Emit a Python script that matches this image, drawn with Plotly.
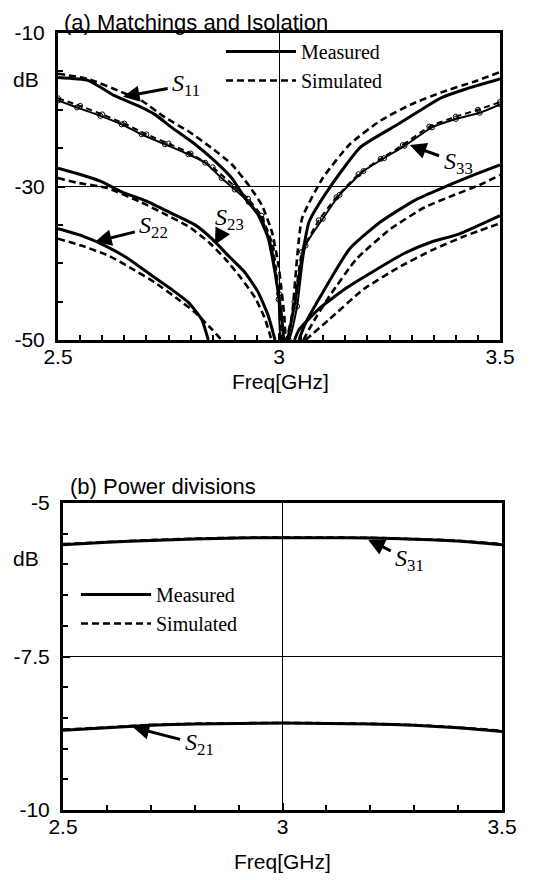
import plotly.graph_objects as go

# ---------------- data: (a) Matchings and Isolation ----------------
s11_meas_x = [2.500, 2.569, 2.629, 2.682, 2.719, 2.757, 2.810, 2.855, 2.893, 2.923, 2.953, 2.976, 2.991, 3.006, 3.012,
              3.018, 3.037, 3.068, 3.114, 3.184, 3.269, 3.330, 3.369, 3.423, 3.500]
s11_meas_y = [-15.8, -16.2, -18.2, -19.5, -20.6, -22.3, -24.5, -26.7, -28.9, -31.5, -33.7, -36.8, -41.2, -46.9, -50.0,
              -50.0, -44.7, -34.6, -30.2, -24.9, -21.9, -19.7, -18.4, -17.3, -16.0]
s11_sim_x = [2.500, 2.569, 2.644, 2.689, 2.742, 2.795, 2.848, 2.893, 2.931, 2.961, 2.984, 2.999, 3.012, 3.016,
             3.029, 3.052, 3.099, 3.160, 3.230, 3.299, 3.369, 3.438, 3.500]
s11_sim_y = [-15.3, -16.0, -17.7, -18.8, -21.0, -22.8, -25.0, -27.1, -29.8, -32.4, -35.9, -40.3, -46.9, -50.0,
             -46.9, -34.2, -28.9, -24.5, -21.4, -19.3, -17.7, -16.4, -15.1]

s33_meas_x = [2.500, 2.543, 2.596, 2.644, 2.689, 2.742, 2.795, 2.833, 2.870, 2.900, 2.931, 2.961, 2.984, 2.999, 3.005,
              3.022, 3.041, 3.060, 3.099, 3.137, 3.191, 3.238, 3.284, 3.346, 3.400, 3.454, 3.500]
s33_meas_y = [-18.8, -19.7, -20.8, -21.9, -23.2, -24.5, -25.8, -26.9, -28.9, -30.4, -32.0, -34.2, -38.1, -44.7, -50.0,
              -50.0, -45.6, -37.7, -34.2, -31.1, -28.0, -26.3, -24.7, -22.3, -21.2, -20.4, -19.3]
s33_sim_x = [2.500, 2.550, 2.600, 2.650, 2.700, 2.750, 2.800, 2.850, 2.900, 2.930, 2.960, 2.985, 3.000, 3.008,
             3.018, 3.035, 3.052, 3.090, 3.130, 3.180, 3.230, 3.280, 3.340, 3.400, 3.450, 3.500]
s33_sim_y = [-18.5, -19.5, -20.6, -21.8, -23.2, -24.4, -25.7, -27.5, -30.0, -31.6, -33.8, -37.5, -44.0, -50.0,
             -50.0, -45.0, -38.5, -34.4, -31.4, -28.4, -26.4, -24.6, -22.2, -20.9, -20.0, -19.0]

s23_meas_x = [2.500, 2.543, 2.596, 2.644, 2.704, 2.757, 2.810, 2.848, 2.885, 2.923, 2.953, 2.976, 2.991, None,
              3.045, 3.060, 3.099, 3.160, 3.230, 3.307, 3.361, 3.423, 3.500]
s23_meas_y = [-27.6, -28.3, -29.3, -30.7, -32.0, -33.5, -35.0, -36.8, -39.0, -41.2, -43.8, -46.9, -50.0, None,
              -50.0, -47.8, -43.8, -38.1, -34.6, -31.8, -30.4, -28.9, -27.2]
s23_sim_x = [2.500, 2.543, 2.611, 2.686, 2.742, 2.795, 2.840, 2.878, 2.915, 2.946, 2.968, 2.983, None,
             3.055, 3.076, 3.114, 3.176, 3.253, 3.330, 3.392, 3.454, 3.500]
s23_sim_y = [-28.9, -29.5, -30.2, -32.0, -33.6, -35.2, -37.2, -39.4, -42.0, -44.5, -47.2, -50.0, None,
             -50.0, -47.8, -44.3, -39.4, -35.5, -32.7, -31.2, -29.8, -28.5]

s22_meas_x = [2.500, 2.553, 2.606, 2.659, 2.712, 2.757, 2.795, 2.825, 2.840, None,
              3.035, 3.045, 3.091, 3.153, 3.215, 3.284, 3.346, 3.407, 3.500]
s22_meas_y = [-35.5, -36.4, -37.7, -39.4, -41.6, -43.4, -45.1, -47.3, -50.0, None,
              -50.0, -48.7, -45.9, -43.2, -41.0, -38.7, -37.2, -36.2, -33.8]
s22_sim_x = [2.500, 2.553, 2.614, 2.667, 2.719, 2.772, 2.810, 2.848, 2.870, None,
             3.060, 3.114, 3.191, 3.269, 3.346, 3.423, 3.500]
s22_sim_y = [-36.8, -37.7, -39.0, -40.7, -42.5, -44.7, -46.4, -48.6, -50.0, None,
             -50.0, -47.3, -43.4, -40.6, -38.3, -36.4, -34.8]

# ---------------- data: (b) Power divisions ----------------
freq_b = [2.5, 2.6, 2.7, 2.8, 2.9, 3.0, 3.1, 3.2, 3.3, 3.4, 3.5]
s31_meas = [-5.68, -5.64, -5.61, -5.585, -5.57, -5.565, -5.565, -5.57, -5.59, -5.62, -5.68]
s31_sim = [-5.67, -5.635, -5.605, -5.58, -5.567, -5.562, -5.563, -5.568, -5.587, -5.615, -5.67]
s21_meas = [-8.70, -8.66, -8.62, -8.60, -8.59, -8.585, -8.59, -8.60, -8.62, -8.66, -8.72]
s21_sim = [-8.69, -8.655, -8.615, -8.595, -8.587, -8.582, -8.587, -8.597, -8.617, -8.655, -8.71]

ticks_a_y = [-10, -30, -50]
ticks_a_ytext = ['-10', '-30', '-50']
ticks_b_y = [-5, -7.5, -10]
ticks_b_ytext = ['-5', '-7.5', '-10']
ticks_x = [2.5, 3.0, 3.5]
ticks_xtext = ['2.5', '3', '3.5']
minor_x_a = [round(2.5 + 0.05 * i, 3) for i in range(21)]
minor_x_b = [round(2.5 + 0.1 * i, 3) for i in range(11)]
minor_y_a = [-50 + 5 * i for i in range(9)]
minor_y_b = [-10 + 0.5 * i for i in range(11)]

# The page body has an 8px margin: the figure is sized to fill the rest of the window.
OFF = 8
W, H = 543 - OFF, 880 - OFF


def fx(p):  # reference-page pixel -> paper x
    return (p - OFF) / W


def fy(p):  # reference-page pixel -> paper y
    return 1 - (p - OFF) / H


SANS = 'Liberation Sans, Arial, sans-serif'
SERIF = 'Liberation Serif, Times New Roman, serif'
MEAS = dict(color='black', width=3, shape='spline', smoothing=0.5)
SIM = dict(color='black', width=2.6, dash='7px,4px', shape='spline', smoothing=0.5)
CIRC = dict(symbol='circle-open', size=5, color='black', line=dict(width=1))

fig = go.Figure()

top = [
    (s11_meas_x, s11_meas_y, MEAS, 'Measured', True, False),
    (s11_sim_x, s11_sim_y, SIM, 'Simulated', True, False),
    (s33_meas_x, s33_meas_y, dict(color='black', width=2, shape='spline', smoothing=0.5), 'S33 measured', False, True),
    (s33_sim_x, s33_sim_y, dict(color='black', width=2, dash='6px,4px', shape='spline', smoothing=0.5),
     'S33 simulated', False, True),
    (s23_meas_x, s23_meas_y, MEAS, 'S23 measured', False, False),
    (s23_sim_x, s23_sim_y, SIM, 'S23 simulated', False, False),
    (s22_meas_x, s22_meas_y, MEAS, 'S22 measured', False, False),
    (s22_sim_x, s22_sim_y, SIM, 'S22 simulated', False, False),
]
for xs, ys, ln, name, show, mk in top:
    fig.add_trace(go.Scatter(
        x=xs, y=ys, mode='lines+markers' if mk else 'lines', line=ln, name=name,
        marker=CIRC if mk else None,
        showlegend=show, legend='legend', xaxis='x', yaxis='y', connectgaps=False))

bottom = [
    (freq_b, s31_meas, MEAS, 'Measured', True),
    (freq_b, s31_sim, SIM, 'Simulated', True),
    (freq_b, s21_meas, MEAS, 'S21 measured', False),
    (freq_b, s21_sim, SIM, 'S21 simulated', False),
]
for xs, ys, ln, name, show in bottom:
    fig.add_trace(go.Scatter(x=xs, y=ys, mode='lines', line=ln, name=name,
                             showlegend=show, legend='legend2', xaxis='x2', yaxis='y2'))


def xaxis(domain, anchor, minor_vals):
    return dict(domain=domain, anchor=anchor, range=[2.5, 3.5], tickvals=ticks_x, ticktext=ticks_xtext,
                automargin=False,
                showgrid=True, gridcolor='black', gridwidth=1, zeroline=False,
                showline=True, linewidth=3, linecolor='black', mirror=True,
                ticks='inside', ticklen=7, tickwidth=2, tickcolor='black',
                minor=dict(tickvals=minor_vals, ticks='inside', ticklen=5, tickwidth=2,
                           tickcolor='black', showgrid=False),
                tickfont=dict(family=SANS, size=21, color='black'), ticklabelstandoff=-4)


def yaxis(domain, anchor, rng, tv, tt, minor_vals):
    return dict(domain=domain, anchor=anchor, range=rng, tickvals=tv, ticktext=tt,
                automargin=False,
                showgrid=True, gridcolor='black', gridwidth=1, zeroline=False,
                showline=True, linewidth=3, linecolor='black', mirror=True,
                ticks='inside', ticklen=7, tickwidth=2, tickcolor='black',
                minor=dict(tickvals=minor_vals, ticks='inside', ticklen=5, tickwidth=2,
                           tickcolor='black', showgrid=False),
                tickfont=dict(family=SANS, size=21, color='black'), ticklabelstandoff=6)


fig.update_layout(
    width=W, height=H, margin=dict(l=0, r=0, t=0, b=0, autoexpand=False),
    paper_bgcolor='white', plot_bgcolor='white', showlegend=True,
    xaxis=xaxis([fx(58), fx(500)], 'y', minor_x_a),
    yaxis=yaxis([fy(340), fy(33)], 'x', [-50, -10], ticks_a_y, ticks_a_ytext, minor_y_a),
    xaxis2=xaxis([fx(63), fx(502)], 'y2', minor_x_b),
    yaxis2=yaxis([fy(810), fy(503)], 'x2', [-10, -5], ticks_b_y, ticks_b_ytext, minor_y_b),
    legend=dict(x=fx(221), y=fy(32), xanchor='left', yanchor='top', bgcolor='rgba(0,0,0,0)',
                font=dict(family=SERIF, size=20, color='black'), itemwidth=70, tracegroupgap=0),
    legend2=dict(x=fx(76), y=fy(575), xanchor='left', yanchor='top', bgcolor='rgba(0,0,0,0)',
                 font=dict(family=SERIF, size=20, color='black'), itemwidth=70, tracegroupgap=0),
)

ann = []
# panel titles, axis titles and dB labels
ann.append(dict(text='(a) Matchings and Isolation', x=fx(62), y=1, xref='paper', yref='paper',
                xanchor='left', yanchor='top', showarrow=False, font=dict(family=SANS, size=22, color='black')))
ann.append(dict(text='(b) Power divisions', x=fx(68), y=fy(486), xref='paper', yref='paper',
                xanchor='left', yanchor='middle', showarrow=False, font=dict(family=SANS, size=22, color='black')))
for xx, yy in ((280, 382), (283, 861)):
    ann.append(dict(text='Freq[GHz]', x=fx(xx), y=fy(yy), xref='paper', yref='paper', xanchor='center',
                    yanchor='middle', showarrow=False, font=dict(family=SANS, size=21, color='black')))
for yy in (80, 558):
    ann.append(dict(text='dB', x=fx(26), y=fy(yy), xref='paper', yref='paper', xanchor='center',
                    yanchor='middle', showarrow=False, font=dict(family=SANS, size=21, color='black')))

# curve labels: (subscript, text_x, text_y, tip_x, tip_y, xref, yref)
labels = [
    ('11', 2.790, -16.8, 2.647, -18.3, 'x', 'y'),
    ('22', 2.717, -35.3, 2.584, -37.2, 'x', 'y'),
    ('23', 2.887, -34.2, 2.855, -37.6, 'x', 'y'),
    ('33', 3.405, -26.9, 3.296, -24.6, 'x', 'y'),
    ('31', 3.290, -5.93, 3.195, -5.60, 'x2', 'y2'),
    ('21', 2.810, -8.93, 2.659, -8.65, 'x2', 'y2'),
]
for sub, tx, ty, px, py, xr, yr in labels:
    ann.append(dict(text='<i>S</i><sub>%s</sub>' % sub, x=px, y=py, ax=tx, ay=ty, xref=xr, yref=yr,
                    axref=xr, ayref=yr, showarrow=True, arrowhead=2, arrowsize=1.1, arrowwidth=3,
                    arrowcolor='black', standoff=0, borderpad=4,
                    font=dict(family=SERIF, size=24, color='black')))
fig.update_layout(annotations=ann)

fig.write_html('out.html')
